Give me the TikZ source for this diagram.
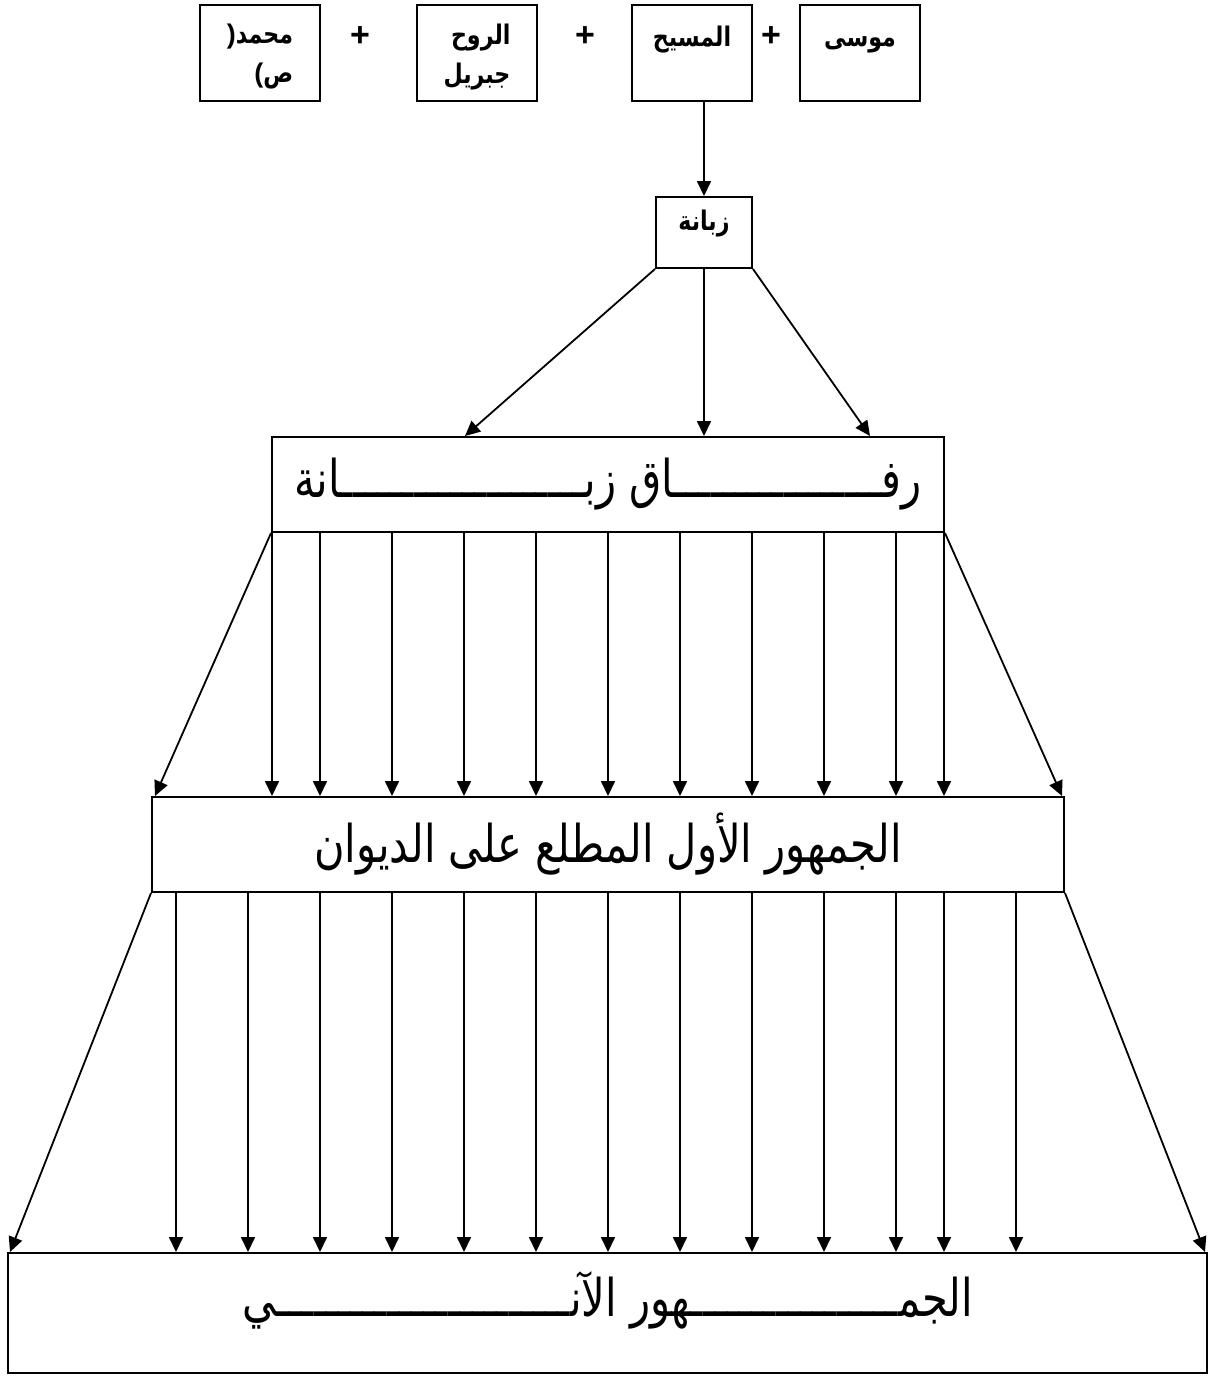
\documentclass[tikz,border=0pt]{standalone}
\usepackage{fontspec}
\newfontfamily\arabicfont[Script=Arabic]{DejaVu Sans}
\newfontfamily\arabicsmall[Script=Arabic, FakeStretch=0.82]{DejaVu Sans}
\newfontfamily\arabicbig[Script=Arabic, FakeStretch=0.8]{DejaVu Sans}
\newfontfamily\latinsans{Liberation Sans}
\TeXXeTstate=1
\usetikzlibrary{arrows.meta,positioning}

\tikzset{
  box/.style={draw, line width=1pt, inner sep=0pt},
  arr/.style={-{Triangle[length=7.5pt,width=7pt]}, line width=0.9pt},
  toplabel/.style={font=\arabicsmall\bfseries\fontsize{13.5}{19.5}\selectfont, align=right, inner sep=0pt},
  plus/.style={font=\latinsans\bfseries\fontsize{17}{19}\selectfont, inner sep=0pt},
  bigtext/.style={font=\arabicbig\fontsize{26}{30}\selectfont},
}

\begin{document}
\begin{tikzpicture}[x=0.5pt, y=-0.5pt]
\useasboundingbox (0,0) rectangle (1215,1378);

% top row
\node [box, minimum width=60pt, minimum height=48pt] (mohammad) at (260,53) {};
\node [box, minimum width=60pt, minimum height=48pt] (ruh) at (477,53) {};
\node [box, minimum width=60pt, minimum height=48pt] (masih) at (692,53) {};
\node [box, minimum width=60pt, minimum height=48pt] (musa) at (860,53) {};

\node [toplabel, below=10pt of mohammad.north] (mohammadtxt)
  {{\latinsans\bfseries )}\beginR محمد\endR\\{}{\latinsans\bfseries (}\beginR ص\endR};
\node [toplabel, below=10pt of ruh.north] (ruhtxt) {\beginR الروح\endR\\\beginR جبريل\endR};
\node [toplabel, below=11pt of masih.north] (masihtxt) {\beginR المسيح\endR};
\node [toplabel, below=16pt of musa.north] (musatxt) {\beginR موسى\endR};

\node [plus] (plusA) at (360,37) {+};
\node [plus] (plusB) at (585,37) {+};
\node [plus] (plusC) at (771,37) {+};

% zabana
\node [box, minimum width=48pt, minimum height=35.5pt] (zab) at (704,232.5) {};
\node [toplabel, below=7pt of zab.north] (zabtxt) {\beginR زبانة\endR};

\draw[arr] (masih.south -| zab.north) -- (zab.north);

% companions
\node [box, bigtext, minimum width=336pt, minimum height=47.5pt] (rifaq) at (608,484.5)
  {\beginR رفـــــــــــــــــاق زبــــــــــــــــــــانة\endR};

\draw[arr] (zab.south west) -- (rifaq.north -| 465,0);
\draw[arr] (zab.south) -- (rifaq.north -| zab.south);
\draw[arr] (zab.south east) -- (rifaq.north -| 870,0);

% first audience
\node [box, bigtext, minimum width=456pt, minimum height=47.5pt] (jamA) at (608,844.5)
  {\beginR الجمهور الأول المطلع على الديوان\endR};

\draw[arr] (rifaq.south west) -- (jamA.north -| 155,0);
\draw[arr] (rifaq.south east) -- (jamA.north -| 1062,0);
\foreach \x in {272,320,392,464,536,608,680,752,824,896,944}
  \draw[arr] (rifaq.south -| \x,0) -- (jamA.north -| \x,0);

% present audience
\node [box, minimum width=599.5pt, minimum height=60pt] (jamB) at (607.5,1313) {};
\node [bigtext] (jamBtxt) at (608,1300)
  {\beginR الجمـــــــــــــــــهور الآنــــــــــــــــــــــــي\endR};

\draw[arr] (jamA.south west) -- (jamB.north -| 10,0);
\draw[arr] (jamA.south east) -- (jamB.north -| 1205,0);
\foreach \x in {176,248,320,392,464,536,608,680,752,824,896,944,1016}
  \draw[arr] (jamA.south -| \x,0) -- (jamB.north -| \x,0);
\end{tikzpicture}
\end{document}
